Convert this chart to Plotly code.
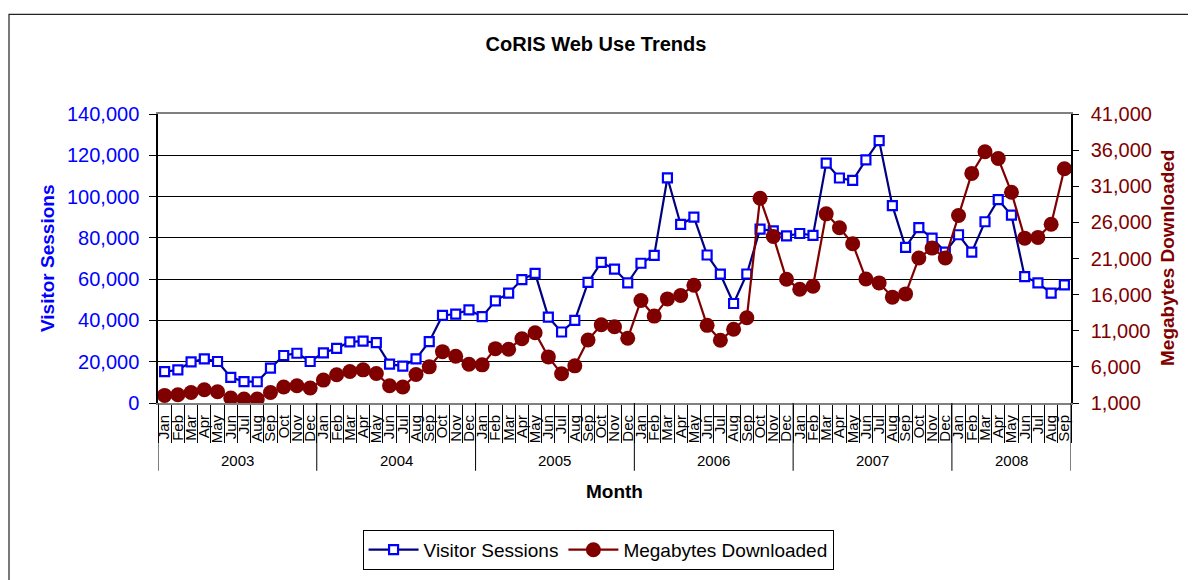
import plotly.graph_objects as go

years = ["2003", "2004", "2005", "2006", "2007", "2008"]
month_names = ["Jan", "Feb", "Mar", "Apr", "May", "Jun", "Jul", "Aug", "Sep", "Oct", "Nov", "Dec"]
months_per_year = [12, 12, 12, 12, 12, 9]

visitor_sessions = [
    15200, 16000, 19900, 21400, 20100, 12400, 10400, 10300, 16900, 23000, 24100, 20100,
    24300, 26500, 29600, 30000, 29200, 18800, 17900, 21400, 29700, 42400, 43100, 45100,
    41800, 49500, 53200, 59800, 62800, 41600, 34400, 40000, 58400, 68100, 64900, 58200,
    67700, 71500, 109100, 86500, 90000, 71700, 62400, 48200, 62500, 84200, 83400, 81000,
    82100, 81200, 116200, 109000, 107800, 117800, 127100, 95600, 75400, 85000, 79900, 73100,
    81500, 73100, 87800, 98500, 91000, 61200, 58200, 53200, 57200,
]
megabytes_downloaded = [
    2050, 2140, 2460, 2830, 2560, 1690, 1550, 1550, 2460, 3210, 3380, 3070,
    4170, 4900, 5350, 5590, 5080, 3380, 3210, 4940, 6000, 8110, 7480, 6370,
    6280, 8520, 8440, 9900, 10730, 7380, 5040, 6140, 9720, 11830, 11560, 9960,
    15190, 13030, 15410, 15880, 17300, 11750, 9680, 11200, 12800, 29330, 24050, 18130,
    16750, 17160, 27180, 25250, 23050, 18170, 17620, 15650, 16100, 21060, 22440, 21060,
    26950, 32780, 35770, 34840, 30160, 23820, 23920, 25750, 33420,
]

# build category positions
month_labels = []
for n in months_per_year:
    month_labels += month_names[:n]
xs = list(range(len(month_labels)))

year_starts = []
acc = 0
for n in months_per_year:
    year_starts.append(acc)
    acc += n
year_bounds = [s - 0.5 for s in year_starts] + [acc - 0.5]
year_centers = [s + (n - 1) / 2 for s, n in zip(year_starts, months_per_year)]

FONT = "Liberation Sans, Arial, sans-serif"
BLUE = "#0000FF"
NAVY = "#000080"
MAROON = "#800000"

fig = go.Figure()
fig.add_trace(go.Scatter(
    x=xs, y=visitor_sessions, name="Visitor Sessions", mode="lines+markers",
    line=dict(color=NAVY, width=2.2),
    marker=dict(symbol="square", size=9, color="white", line=dict(color=BLUE, width=2.2)),
    yaxis="y",
))
fig.add_trace(go.Scatter(
    x=xs, y=megabytes_downloaded, name="Megabytes Downloaded", mode="lines+markers",
    line=dict(color=MAROON, width=2.2),
    marker=dict(symbol="circle", size=15, color=MAROON, line=dict(width=0)),
    yaxis="y2",
))

shapes = []
# year separators below axis
for b in year_bounds:
    shapes.append(dict(type="line", xref="x", yref="paper", x0=b, x1=b, y0=0, y1=-0.2345,
                       line=dict(color="black", width=1)))
# outer chart border
shapes.append(dict(type="rect", xref="paper", yref="paper", x0=-0.1632, x1=1.3, y0=1.345, y1=-1.5,
                   line=dict(color="#222222", width=1.2), fillcolor="rgba(0,0,0,0)", layer="below"))

annotations = []
for yr, c in zip(years, year_centers):
    annotations.append(dict(text=yr, x=c, xref="x", y=-0.2, yref="paper", showarrow=False,
                            font=dict(family=FONT, size=15, color="black"),
                            xanchor="center", yanchor="middle"))
annotations.append(dict(text="<b>Month</b>", x=0.5, xref="paper", y=-0.307, yref="paper",
                        showarrow=False, font=dict(family=FONT, size=19, color="black"),
                        xanchor="center", yanchor="middle"))
annotations.append(dict(text="<b>Visitor Sessions</b>", x=-0.121, xref="paper", y=0.5, yref="paper",
                        showarrow=False, textangle=-90, font=dict(family=FONT, size=19, color=BLUE),
                        xanchor="center", yanchor="middle"))
annotations.append(dict(text="<b>Megabytes Downloaded</b>", x=1.1057, xref="paper", y=0.5, yref="paper",
                        showarrow=False, textangle=-90, font=dict(family=FONT, size=19, color=MAROON),
                        xanchor="center", yanchor="middle"))

# the page body adds an 8px offset, so the figure is laid out 8px smaller
W, H = 1188, 572
fig.update_layout(
    width=W, height=H,
    margin=dict(l=150, r=125, t=106, b=176),
    paper_bgcolor="white", plot_bgcolor="white",
    font=dict(family=FONT, color="black"),
    title=dict(text="<b>CoRIS Web Use Trends</b>", x=588 / W, xref="container", xanchor="center",
               y=1 - 36 / H, yref="container", yanchor="middle",
               font=dict(family=FONT, size=20, color="black")),
    showlegend=True,
    legend=dict(orientation="h", x=0.482, xanchor="center", y=-0.503, yanchor="middle",
                bordercolor="black", borderwidth=1, bgcolor="white",
                font=dict(family=FONT, size=19, color="black"),
                itemwidth=50, tracegroupgap=0),
    xaxis=dict(
        range=[-0.5, len(xs) - 0.5],
        tickmode="array", tickvals=xs, ticktext=month_labels,
        tickangle=-90, ticks="", ticklabelstandoff=4,
        tickfont=dict(family=FONT, size=15, color="black"),
        showgrid=False, zeroline=False,
        showline=True, linecolor="#808080", linewidth=2, mirror=True,
        minor=dict(tickmode="array", tickvals=[v - 0.5 for v in xs] + [len(xs) - 0.5],
                   ticks="outside", ticklen=38, tickcolor="black", tickwidth=1, showgrid=False),
        fixedrange=True,
    ),
    yaxis=dict(
        range=[0, 140000], tick0=0, dtick=20000, tickformat=",",
        ticks="outside", ticklen=7, tickcolor="black", tickwidth=1, ticklabelstandoff=6,
        tickfont=dict(family=FONT, size=20, color=BLUE),
        showgrid=True, gridcolor="black", gridwidth=1,
        zeroline=False, showline=True, linecolor="black", linewidth=1.5,
    ),
    yaxis2=dict(
        range=[1000, 41000], tick0=1000, dtick=5000, tickformat=",",
        overlaying="y", side="right",
        ticks="outside", ticklen=6, tickcolor="black", tickwidth=1, ticklabelstandoff=8,
        tickfont=dict(family=FONT, size=20, color=MAROON),
        showgrid=False, zeroline=False, showline=True, linecolor="black", linewidth=1.5,
    ),
    shapes=shapes,
    annotations=annotations,
)

fig.write_html("out.html")
